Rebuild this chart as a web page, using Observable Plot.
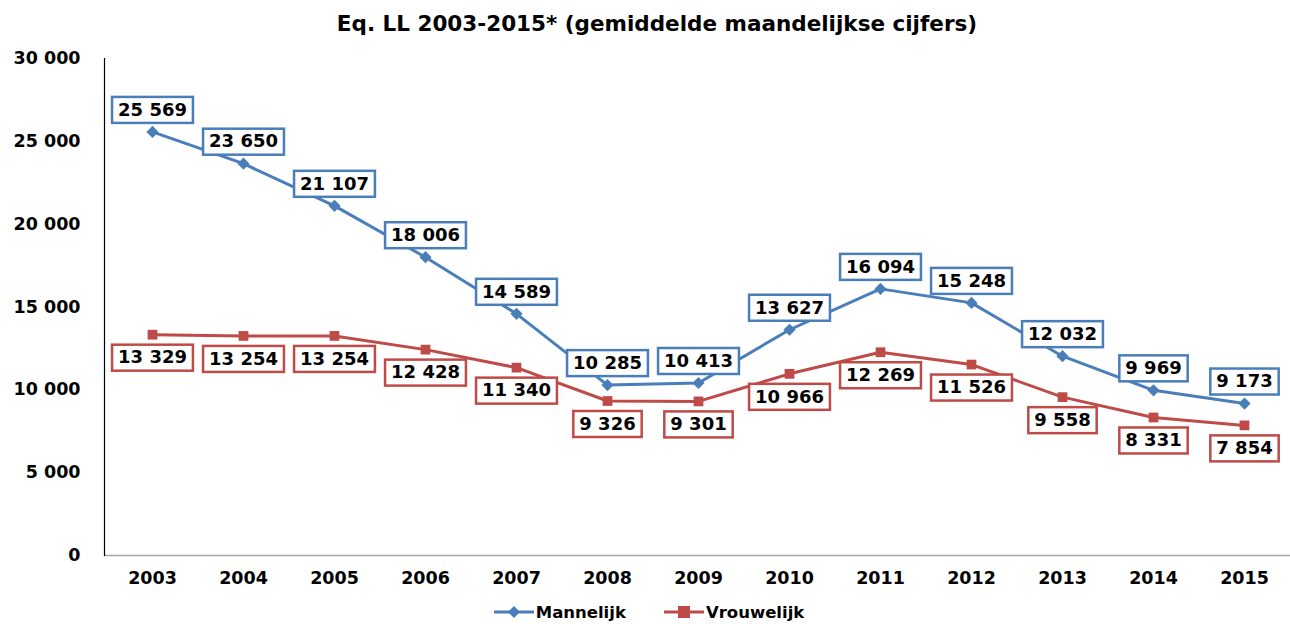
<!DOCTYPE html>
<html>
<head>
<meta charset="utf-8">
<script src="https://cdn.jsdelivr.net/npm/d3@7"></script>
<script src="https://cdn.jsdelivr.net/npm/@observablehq/plot@0.6"></script>
<style>
  html, body { margin: 0; padding: 0; background: #fff; width: 1290px; height: 624px; overflow: hidden; }
  body { font-family: "DejaVu Sans", Verdana, sans-serif; font-weight: bold; }
  #title { height: 40px; line-height: 48px; text-align: center; font-family: "DejaVu Sans", sans-serif; font-size: 21.5px; font-weight: bold; padding-left: 24px; color: #000; white-space: nowrap; }
  #legend { display: flex; justify-content: center; align-items: center; gap: 38px; font-size: 16.5px; height: 24px; padding-left: 8px; }
  #legend span { display: inline-flex; align-items: center; gap: 2px; }
</style>
</head>
<body>
<div id="title">Eq. LL 2003-2015* (gemiddelde maandelijkse cijfers)</div>
<div id="chart"></div>
<div id="legend"></div>
<script>
const years = ["2003","2004","2005","2006","2007","2008","2009","2010","2011","2012","2013","2014","2015"];
const mannelijk = [25569, 23650, 21107, 18006, 14589, 10285, 10413, 13627, 16094, 15248, 12032, 9969, 9173];
const vrouwelijk = [13329, 13254, 13254, 12428, 11340, 9326, 9301, 10966, 12269, 11526, 9558, 8331, 7854];
const yTicks = [0, 5000, 10000, 15000, 20000, 25000, 30000];
const seriesNames = ["Mannelijk", "Vrouwelijk"];
const colors = ["#4a7ebb", "#be4b48"];

const fmt = v => d3.format(",")(v).replace(/,/g, " ");
const mData = years.map((y, i) => ({year: y, value: mannelijk[i]}));
const vData = years.map((y, i) => ({year: y, value: vrouwelijk[i]}));

const LABEL_FONT = "bold 18px 'DejaVu Sans'";
const ctx = document.createElement("canvas").getContext("2d");
ctx.font = LABEL_FONT;

function boxed(color) {
  return function(index, scales, values, dimensions, context, next) {
    const g = next(index, scales, values, dimensions, context);
    const first = g.firstChild;
    for (const i of index) {
      const w = ctx.measureText(values.text[i]).width + 12;
      const h = 26;
      const r = document.createElementNS("http://www.w3.org/2000/svg", "rect");
      r.setAttribute("x", values.x[i] - w / 2);
      r.setAttribute("y", values.y[i] - h / 2);
      r.setAttribute("width", w);
      r.setAttribute("height", h);
      r.setAttribute("fill", "#fff");
      r.setAttribute("stroke", color);
      r.setAttribute("stroke-width", 2.5);
      g.insertBefore(r, first);
    }
    return g;
  };
}

const chart = Plot.plot({
  width: 1290,
  height: 560,
  marginLeft: 104,
  marginRight: 0,
  marginTop: 18,
  marginBottom: 45,
  style: {fontFamily: "DejaVu Sans, Verdana, sans-serif", fontWeight: "bold", color: "#000", background: "#fff"},
  x: {type: "point", domain: years, range: [148, 1248], padding: 0},
  y: {domain: [0, 30000]},
  marks: [
    Plot.ruleY([0], {stroke: "#a6a6a6", strokeWidth: 1.5}),
    Plot.frame({anchor: "left", stroke: "#000", strokeWidth: 1.2}),
    Plot.axisY({ticks: yTicks, tickSize: 0, tickPadding: 24, tickFormat: fmt, fontSize: 17.5, fontWeight: "bold", label: null}),
    Plot.axisX({tickSize: 0, tickPadding: 16, fontSize: 17.5, fontWeight: "bold", label: null}),
    Plot.line(vData, {x: "year", y: "value", stroke: colors[1], strokeWidth: 3}),
    Plot.line(mData, {x: "year", y: "value", stroke: colors[0], strokeWidth: 3}),
    Plot.dot(vData, {x: "year", y: "value", symbol: "square", fill: colors[1], r: 5.5}),
    Plot.dot(mData, {x: "year", y: "value", symbol: "diamond2", fill: colors[0], r: 5.5}),
    Plot.text(vData, {x: "year", y: "value", text: d => fmt(d.value), dy: 23, fontSize: 18, fontWeight: "bold", fill: "#000", render: boxed(colors[1])}),
    Plot.text(mData, {x: "year", y: "value", text: d => fmt(d.value), dy: -22, fontSize: 18, fontWeight: "bold", fill: "#000", render: boxed(colors[0])})
  ]
});
document.getElementById("chart").appendChild(chart);

const legend = document.getElementById("legend");
legend.innerHTML = `
<span><svg width="40" height="14"><line x1="0" x2="40" y1="7" y2="7" stroke="${colors[0]}" stroke-width="3"/><path d="M20,1 L26,7 L20,13 L14,7Z" fill="${colors[0]}"/></svg>${seriesNames[0]}</span>
<span><svg width="40" height="14"><line x1="0" x2="40" y1="7" y2="7" stroke="${colors[1]}" stroke-width="3"/><rect x="14" y="1" width="12" height="12" fill="${colors[1]}"/></svg>${seriesNames[1]}</span>`;
</script>
</body>
</html>
